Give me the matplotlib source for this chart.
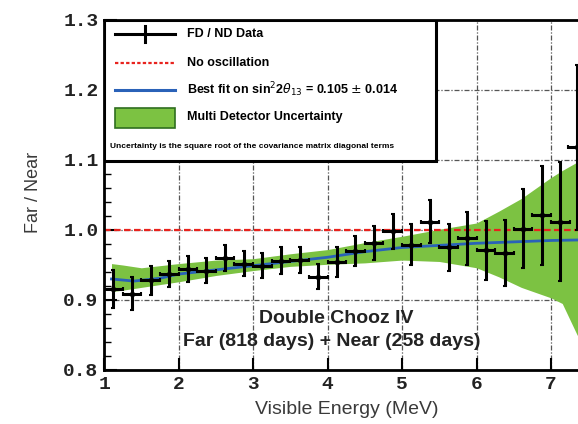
import numpy as np
import matplotlib
matplotlib.use("Agg")
from matplotlib import pyplot as plt
from matplotlib.patches import Rectangle
from matplotlib.ticker import MultipleLocator

# FD/ND ratio per 0.25 MeV bin
energy = [1.125, 1.375, 1.625, 1.875, 2.125, 2.375, 2.625, 2.875, 3.125,
          3.375, 3.625, 3.875, 4.125, 4.375, 4.625, 4.875, 5.125, 5.375,
          5.625, 5.875, 6.125, 6.375, 6.625, 6.875, 7.125, 7.35]
ratio = [0.916, 0.909, 0.928, 0.937, 0.944, 0.942, 0.960, 0.952, 0.949,
         0.956, 0.957, 0.933, 0.954, 0.970, 0.981, 0.998, 0.979, 1.012,
         0.975, 0.988, 0.971, 0.967, 1.002, 1.021, 1.012, 1.118]
ratio_err = [0.027, 0.024, 0.021, 0.019, 0.019, 0.018, 0.018, 0.018, 0.018,
             0.019, 0.019, 0.018, 0.021, 0.022, 0.024, 0.025, 0.029, 0.031,
             0.034, 0.038, 0.042, 0.047, 0.057, 0.071, 0.085, 0.118]

# best fit curve
fit_e = [1.1, 1.4, 1.75, 2.0, 2.5, 3.0, 3.5, 4.0, 4.5, 5.0, 5.5, 6.0, 6.5, 7.0, 7.5, 8.0]
fit_r = [0.930, 0.927, 0.931, 0.937, 0.943, 0.949, 0.955, 0.961, 0.969,
         0.975, 0.978, 0.981, 0.983, 0.985, 0.986, 0.987]

# multi detector uncertainty band
band_e = [1.1, 1.25, 1.5, 2.0, 2.5, 3.0, 3.5, 4.0, 4.5, 5.0, 5.5, 6.0,
          6.3, 6.6, 7.0, 7.15, 7.35, 8.0]
band_lo = [0.912, 0.914, 0.918, 0.926, 0.935, 0.942, 0.948, 0.951, 0.953,
           0.957, 0.955, 0.946, 0.933, 0.918, 0.903, 0.895, 0.850, 0.780]
band_hi = [0.952, 0.950, 0.946, 0.952, 0.957, 0.959, 0.966, 0.972, 0.982,
           0.991, 1.001, 1.010, 1.027, 1.045, 1.075, 1.085, 1.097, 1.140]

xticks = [1, 2, 3, 4, 5, 6, 7]
yticks = [0.8, 0.9, 1.0, 1.1, 1.2, 1.3]

green = '#7cc242'
blue = '#2a62b8'
red = '#e8231e'
mono = 'Liberation Mono'
sans = 'Liberation Sans'

fig = plt.figure(figsize=(5.78, 4.24), dpi=100)
ax = fig.add_axes([0.18, 0.1274, 0.9023, 0.8255])

ax.fill_between(band_e, band_lo, band_hi, color=green, lw=0, zorder=1)
ax.axhline(1.0, color=red, lw=1.6, dashes=(3, 1.5), zorder=2)
ax.plot(fit_e, fit_r, color=blue, lw=2, zorder=3)
ax.errorbar(energy, ratio, yerr=ratio_err, xerr=0.125, fmt='o', ms=3,
            color='black', elinewidth=2.2, capsize=1.5, capthick=1.5, zorder=4)

ax.set_xlim(1, 8)
ax.set_ylim(0.8, 1.3)
ax.set_xticks(xticks)
ax.set_yticks(yticks)
ax.set_yticklabels(['%.1f' % v for v in yticks])
ax.yaxis.set_minor_locator(MultipleLocator(0.02))
ax.tick_params(which='major', direction='in', length=9, width=1.5, pad=4)
ax.tick_params(which='minor', direction='in', length=5, width=1)
for lab in ax.get_xticklabels() + ax.get_yticklabels():
    lab.set_fontfamily(mono)
    lab.set_fontweight('bold')
    lab.set_fontsize(14)
    lab.set_color('#222222')

ax.grid(True, which='major', color='#555555', lw=0.9, ls=(0, (4, 1.5, 1, 1.5)))
ax.set_axisbelow(True)
for s in ['left', 'bottom', 'top']:
    ax.spines[s].set_linewidth(2)
ax.spines['right'].set_visible(False)

# legend box drawn by hand (includes a footnote line)
T = ax.transAxes
ax.add_patch(Rectangle((0, 0.597), 0.637, 0.403, transform=T, facecolor='white',
                       edgecolor='black', lw=2.2, zorder=6))
ax.plot([0.021, 0.136], [0.96, 0.96], transform=T, color='black', lw=2.2, zorder=7)
ax.plot([0.0785, 0.0785], [0.937, 0.983], transform=T, color='black', lw=2.2, zorder=7)
ax.plot([0.021, 0.136], [0.878, 0.878], transform=T, color=red, lw=1.6,
        dashes=(1.5, 1), zorder=7)
ax.plot([0.021, 0.136], [0.80, 0.80], transform=T, color=blue, lw=2.2, zorder=7)
ax.add_patch(Rectangle((0.021, 0.691), 0.115, 0.058, transform=T, facecolor=green,
                       edgecolor='#2f6e1f', lw=1.2, zorder=7))
leg_txt = dict(transform=T, fontsize=9, fontweight='bold', family=sans,
               va='center', ha='left', zorder=8)
ax.text(0.159, 0.96, 'FD / ND Data', **leg_txt)
ax.text(0.159, 0.878, 'No oscillation', **leg_txt)
ax.text(0.159, 0.80, r'Best fit on sin$^{2}$2$\theta_{13}$ = 0.105 $\pm$ 0.014', **leg_txt)
ax.text(0.159, 0.723, 'Multi Detector Uncertainty', **leg_txt)
ax.text(0.0115, 0.638, 'Uncertainty is the square root of the covariance matrix diagonal terms',
        transform=T, fontsize=6, fontweight='bold', family=sans, va='center',
        ha='left', zorder=8)

ax.text(4.12, 0.8729, 'Double Chooz IV', ha='center', va='center', fontsize=14,
        fontweight='bold', family=sans, color='#222222', zorder=8)
ax.text(4.06, 0.8414, 'Far (818 days) + Near (258 days)', ha='center', va='center',
        fontsize=14, fontweight='bold', family=sans, color='#222222', zorder=8)

fig.text(34 / 578, 1 - 192 / 424, 'Far / Near', rotation=90, ha='center',
         va='center', fontsize=13, family=sans, color='#3a3a3a')
fig.text(347 / 578, 1 - 410 / 424, 'Visible Energy (MeV)', ha='center',
         va='center', fontsize=14, family=sans, color='#3a3a3a')

fig.savefig('out.png', dpi=100)
